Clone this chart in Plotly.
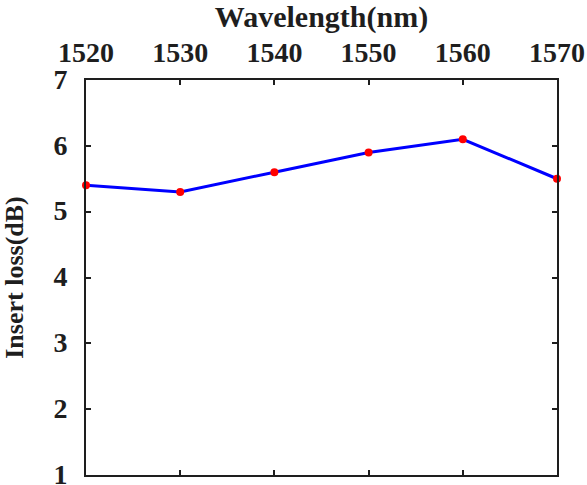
import plotly.graph_objects as go

wavelength = [1520, 1530, 1540, 1550, 1560, 1570]
insert_loss = [5.4, 5.3, 5.6, 5.9, 6.1, 5.5]
x_ticks = [1520, 1530, 1540, 1550, 1560, 1570]
y_ticks = [1, 2, 3, 4, 5, 6, 7]

FONT = "Liberation Serif"
AX = "#1e1e1e"

fig = go.Figure()
fig.add_trace(go.Scatter(
    x=wavelength, y=insert_loss, mode="lines+markers",
    line=dict(color="#0000ff", width=3),
    marker=dict(color="#ff0000", size=8, symbol="circle"),
    cliponaxis=False, showlegend=False,
))

fig.update_layout(
    width=587, height=485,
    margin=dict(l=86, r=30, t=80, b=10),
    paper_bgcolor="white", plot_bgcolor="white",
    font=dict(family=FONT, color="#1e1e1e"),
    xaxis=dict(
        range=[1520, 1570], side="top", tickvals=x_ticks,
        ticktext=["<b>%d</b>" % v for v in x_ticks],
        showline=True, linecolor=AX, linewidth=2, mirror="ticks",
        ticks="inside", ticklen=5, tickwidth=2, tickcolor=AX,
        showgrid=False, zeroline=False, automargin=False,
        ticklabelstandoff=5, ticklabeloverflow="allow",
        tickfont=dict(family=FONT, size=28),
        title=dict(text="<b>Wavelength(nm)</b>", font=dict(family=FONT, size=30), standoff=12),
    ),
    yaxis=dict(
        range=[1, 7], tickvals=y_ticks,
        ticktext=["<b>%d</b>" % v for v in y_ticks],
        showline=True, linecolor=AX, linewidth=2, mirror="ticks",
        ticks="inside", ticklen=5, tickwidth=2, tickcolor=AX,
        showgrid=False, zeroline=False, automargin=False,
        ticklabelstandoff=11, ticklabelshift=-1, ticklabeloverflow="allow",
        tickfont=dict(family=FONT, size=28),
        title=dict(text="<b>Insert loss(dB)</b>", font=dict(family=FONT, size=26), standoff=23),
    ),
)

fig.write_html(
    "out.html",
    config={"displayModeBar": False},
    post_script="document.body.style.margin='0';document.body.style.overflow='hidden';",
)
